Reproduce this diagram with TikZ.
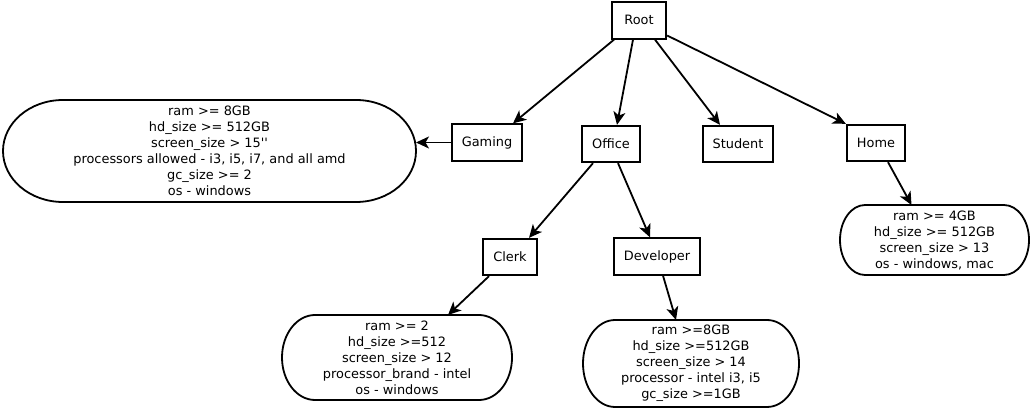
\documentclass[tikz,border=0pt]{standalone}
\usepackage{fontspec}
\setmainfont{DejaVu Sans}
\usetikzlibrary{arrows.meta}
\newcommand{\stadium}[3]{%
  \draw[rim] ([xshift=#2]#1.north west) -- ([xshift=-#2]#1.north east)
    arc[start angle=90,end angle=-90,x radius=#2,y radius=#3]
    -- ([xshift=#2]#1.south west)
    arc[start angle=270,end angle=90,x radius=#2,y radius=#3] -- cycle;}

\begin{document}
\begin{tikzpicture}[x=1pt,y=1pt,>={Stealth[length=13pt,width=12pt,inset=3.5pt]},
  every node/.style={font=\fontsize{12.9}{16}\selectfont},
  box/.style={draw,line width=1.8pt,minimum height=36.5pt,inner sep=0pt,
    text height=9.5pt,text depth=0.5pt},
  rules/.style={align=center,inner sep=0pt,outer sep=0pt},
  rim/.style={line width=1.8pt},
  link/.style={->,line width=1.8pt}]
  \useasboundingbox (0,0) rectangle (1032,409);

  \node[box,minimum width=54.5pt] (root) at (639,388.5) {Root};
  \node[box,minimum width=70.5pt] (gaming) at (487,266.5) {Gaming};
  \node[box,minimum width=58.5pt] (office) at (611,265) {Office};
  \node[box,minimum width=70.5pt] (student) at (738,265) {Student};
  \node[box,minimum width=58.5pt] (home) at (876,266) {Home};
  \node[box,minimum width=54.5pt] (clerk) at (510,152) {Clerk};
  \node[box,minimum width=86.5pt] (developer) at (657,152.5) {Developer};

  \node[rules,minimum width=413pt,minimum height=102pt] (gamingrules) at (209.5,258)
    {ram >= 8GB\\hd\_size >= 512GB\\screen\_size > 15\textquotesingle\textquotesingle\\processors allowed - i3, i5, i7, and all amd\\gc\_size >= 2\\os - windows};
  \node[rules,minimum width=230pt,minimum height=85pt] (clerkrules) at (397,51.5)
    {ram >= 2\\hd\_size >=512\\screen\_size > 12\\processor\_brand - intel\\os - windows};
  \node[rules,minimum width=216pt,minimum height=87pt] (devrules) at (691,45.5)
    {ram >=8GB\\hd\_size >=512GB\\screen\_size > 14\\processor - intel i3, i5\\gc\_size >=1GB};
  \node[rules,minimum width=189pt,minimum height=70pt] (homerules) at (934.5,169)
    {ram >= 4GB\\hd\_size >= 512GB\\screen\_size > 13\\os - windows, mac};

  \stadium{gamingrules}{60pt}{51pt}
  \stadium{clerkrules}{33pt}{42.5pt}
  \stadium{devrules}{32pt}{43.5pt}
  \stadium{homerules}{25pt}{35pt}

  \draw[link] ([xshift=-25pt]root.south) -- ([xshift=26pt]gaming.north);
  \draw[link] ([xshift=-6pt]root.south) -- ([xshift=6pt]office.north);
  \draw[link] ([xshift=16pt]root.south) -- ([xshift=-18pt]student.north);
  \draw[link] ([yshift=-15pt]root.east) -- (home.north west);
  \draw[link] (gaming.west) -- (gaming.west -| gamingrules.east);
  \draw[link] ([xshift=-18pt]office.south) -- ([xshift=19pt]clerk.north);
  \draw[link] ([xshift=7pt]office.south) -- ([xshift=-7pt]developer.north);
  \draw[link] ([xshift=-21pt]clerk.south) -- ([xshift=51pt]clerkrules.north);
  \draw[link] ([xshift=6pt]developer.south) -- ([xshift=-15pt]devrules.north);
  \draw[link] ([xshift=12pt]home.south) -- ([xshift=-23pt]homerules.north);
\end{tikzpicture}
\end{document}
